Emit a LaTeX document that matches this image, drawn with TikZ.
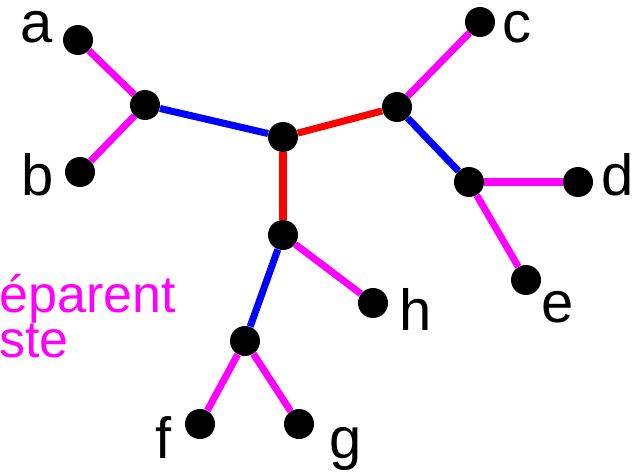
\documentclass[tikz,border=0pt]{standalone}
\usepackage{fontspec}
\setmainfont{Liberation Sans}
\usepackage{xcolor}
\definecolor{leafpink}{RGB}{255,0,255}
\definecolor{innerblue}{RGB}{0,0,255}
\definecolor{midred}{RGB}{255,0,0}

\tikzset{
  dot/.style={circle, fill=black, inner sep=0pt, minimum size=0.6cm},
  lbl/.style={anchor=base west, inner sep=0pt, font=\fontsize{33}{33}\selectfont},
  tip/.style={line width=4pt, leafpink},
  inner/.style={line width=4pt, innerblue},
  mid/.style={line width=4pt, midred}
}

\begin{document}
\begin{tikzpicture}[x=0.02cm, y=-0.02cm]
    \useasboundingbox (0,0) rectangle (635,473);
    \clip (0,0) rectangle (635,473);

            % nodes of the tree
			\node [dot] (a) at (78,40) {};
			\node [dot] (b) at (80,172) {};
			\node [dot] (ab) at (145,105) {};
			\node [dot] (root) at (283,137) {};
			\node [dot] (cde) at (397,107) {};
			\node [dot] (c) at (480,22) {};
			\node [dot] (de) at (469,182) {};
			\node [dot] (d) at (578,182) {};
			\node [dot] (e) at (526,280) {};
			\node [dot] (fgh) at (283,235) {};
			\node [dot] (h) at (373,303) {};
			\node [dot] (fg) at (245,341) {};
			\node [dot] (f) at (200,424) {};
			\node [dot] (g) at (299,424) {};

            % branches
			\draw [tip] (a) to (ab);
			\draw [tip] (b) to (ab);
			\draw [inner] (ab) to (root);
			\draw [mid] (root) to (cde);
			\draw [mid] (root) to (fgh);
			\draw [tip] (cde) to (c);
			\draw [inner] (cde) to (de);
			\draw [tip] (de) to (d);
			\draw [tip] (de) to (e);
			\draw [tip] (fgh) to (h);
			\draw [inner] (fgh) to (fg);
			\draw [tip] (fg) to (f);
			\draw [tip] (fg) to (g);

            % leaf names
			\node [lbl] (la) at (20,43) {a};
			\node [lbl] (lb) at (21,195) {b};
			\node [lbl] (lc) at (502,43) {c};
			\node [lbl] (ld) at (601,195) {d};
			\node [lbl] (le) at (541,322) {e};
			\node [lbl] (lh) at (399,330) {h};
			\node [lbl] (lf) at (155,458) {f};
			\node [lbl] (lg) at (329,458) {g};

			\node [lbl, leafpink, align=left, font=\fontsize{29.6}{25.6}\selectfont] (note) at (-1,357) {éparent\\ste};

\end{tikzpicture}
\end{document}
